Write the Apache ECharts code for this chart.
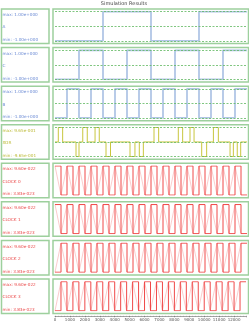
<!DOCTYPE html>
<html><head><meta charset="utf-8">
<script src="https://cdn.jsdelivr.net/npm/echarts@6/dist/echarts.min.js"></script>
<style>html,body{margin:0;padding:0;background:#fff}#c{width:249px;height:323px}</style>
</head><body><div id="c"></div>
<script>
const titleText = 'Simulation Results';
const signalNames = ['A', 'C', 'B', 'XOR', 'CLOCK 0', 'CLOCK 1', 'CLOCK 2', 'CLOCK 3'];
const maxLabels = ['1.00e+000', '1.00e+000', '1.00e+000', '9.65e-001', '9.60e-022', '9.60e-022', '9.60e-022', '9.60e-022'];
const minLabels = ['-1.00e+000', '-1.00e+000', '-1.00e+000', '-9.65e-001', '3.83e-023', '3.83e-023', '3.83e-023', '3.83e-023'];
const yMaxes = [1, 1, 1, 0.965, 9.6e-22, 9.6e-22, 9.6e-22, 9.6e-22];
const yMins = [-1, -1, -1, -0.965, 3.83e-23, 3.83e-23, 3.83e-23, 3.83e-23];
const xTickLabels = [0, 1000, 2000, 3000, 4000, 5000, 6000, 7000, 8000, 9000, 10000, 11000, 12000];
const xEnd = 12800;

const aTimes = [0, 3200, 6400, 9600, 12800];
const aValues = [-1, 1, -1, 1, 1];
const cTimes = [0, 1600, 3200, 4800, 6400, 8000, 9600, 11200, 12800];
const cValues = [-1, 1, -1, 1, -1, 1, -1, 1, 1];
const bTimes = [0, 800, 1600, 2400, 3200, 4000, 4800, 5600, 6400, 7200, 8000, 8800, 9600, 10400, 11200, 12000, 12800];
const bValues = [-1, 1, -1, 1, -1, 1, -1, 1, -1, 1, -1, 1, -1, 1, -1, 1, 1];
const xorTimes = [0, 220, 510, 1400, 1600, 1850, 2150, 2670, 2950, 3400, 3700, 5000, 5330, 5620, 5890, 6600, 6910, 8220, 8510, 9000, 9270, 9780, 10110, 10560, 10890, 11670, 11890, 12150, 12380, 12800];
const xorValues = [0, 0.965, 0, -0.965, 0, 0.965, 0, 0.965, 0, -0.965, 0, -0.965, 0, -0.965, 0, 0.965, 0, 0.965, 0, 0.965, 0, -0.965, 0, 0.965, 0, -0.965, 0, -0.965, 0, 0];
const clkTimes = [0, 400, 800, 1200, 1600, 2000, 2400, 2800, 3200, 3600, 4000, 4400, 4800, 5200, 5600, 6000, 6400, 6800, 7200, 7600, 8000, 8400, 8800, 9200, 9600, 10000, 10400, 10800, 11200, 11600, 12000, 12400, 12800];
const H = 9.6e-22, L = 3.83e-23;
const clk0Values = [H, L, H, L, H, L, H, L, H, L, H, L, H, L, H, L, H, L, H, L, H, L, H, L, H, L, H, L, H, L, H, L, L];
const clk1Values = [H, L, H, L, H, L, H, L, H, L, H, L, H, L, H, L, H, L, H, L, H, L, H, L, H, L, H, L, H, L, H, L, L];
const clk2Values = [L, H, L, H, L, H, L, H, L, H, L, H, L, H, L, H, L, H, L, H, L, H, L, H, L, H, L, H, L, H, L, H, H];
const clk3Values = [L, H, L, H, L, H, L, H, L, H, L, H, L, H, L, H, L, H, L, H, L, H, L, H, L, H, L, H, L, H, L, H, H];

const rowTimes = [aTimes, cTimes, bTimes, xorTimes, clkTimes, clkTimes, clkTimes, clkTimes];
const rowValues = [aValues, cValues, bValues, xorValues, clk0Values, clk1Values, clk2Values, clk3Values];
const rowKinds = ['digital', 'digital', 'digital', 'xor', 'clock', 'clock', 'clock', 'clock'];

const kindStyle = {
  digital: { color: '#b1c6e6', width: 1.8, text: '#6a8ad4' },
  xor: { color: '#c8c63e', width: 1, text: '#bbb934' },
  clock: { color: '#f04848', width: 1, text: '#ea4848' }
};
const boxGreen = '#9dd09d';
const dashGreen = '#5fb85f';

const rowTop0 = 9, rowStep = 38.57, rowH = 34.5;
const grids = [], xAxes = [], yAxes = [], series = [], graphics = [];
for (let i = 0; i < signalNames.length; i++) {
  const top = rowTop0 + i * rowStep;
  const st = kindStyle[rowKinds[i]];
  grids.push({ left: 55, right: 2, top: top + 2.7, height: rowH - 5.4 });
  const last = i === signalNames.length - 1;
  xAxes.push({
    type: 'value', gridIndex: i, min: 0, max: xEnd, interval: 1000,
    show: last,
    offset: 5,
    axisLine: { show: true, lineStyle: { color: '#666', width: 0.6 } },
    axisTick: { show: true, length: 1.5, lineStyle: { color: '#666', width: 0.6 } },
    minorTick: { show: true, splitNumber: 5, length: 1, lineStyle: { color: '#888', width: 0.5 } },
    axisLabel: { fontSize: 4, color: '#555', margin: 2.5, fontFamily: 'DejaVu Sans',
      formatter: v => xTickLabels.indexOf(v) >= 0 ? String(v) : '' },
    splitLine: { show: false }
  });
  yAxes.push({ type: 'value', gridIndex: i, min: yMins[i], max: yMaxes[i], show: false, splitLine: { show: false } });
  const data = rowTimes[i].map((t, k) => [t, rowValues[i][k]]);
  const mid = (yMins[i] + yMaxes[i]) / 2;
  series.push({
    type: 'line', xAxisIndex: i, yAxisIndex: i, data, step: 'end', symbol: 'none',
    lineStyle: { color: st.color, width: st.width }, animation: false,
    markLine: {
      silent: true, symbol: ['none', 'none'], label: { show: false },
      lineStyle: { color: dashGreen, type: [2, 1.5], width: 0.8 },
      data: [{ yAxis: yMins[i] }, { yAxis: mid }, { yAxis: yMaxes[i] }]
    }
  });
  if (rowKinds[i] === 'clock') {
    series.push({
      type: 'line', xAxisIndex: i, yAxisIndex: i, data, symbol: 'none',
      lineStyle: { color: 'rgba(240,72,72,0.28)', width: 1 }, animation: false, z: 1
    });
  }
  graphics.push({ type: 'rect', shape: { x: 1.5, y: top, width: 47.5, height: rowH },
    style: { fill: 'none', stroke: boxGreen, lineWidth: 1.5 } });
  graphics.push({ type: 'rect', shape: { x: 53, y: top, width: 195.5, height: rowH },
    style: { fill: 'none', stroke: boxGreen, lineWidth: 1.5 } });
  const ts = { fill: st.text, font: '4.2px "DejaVu Sans"', textVerticalAlign: 'middle' };
  graphics.push({ type: 'text', x: 2.5, y: top + 6, style: Object.assign({ text: 'max: ' + maxLabels[i] }, ts) });
  graphics.push({ type: 'text', x: 2.5, y: top + 18.3, style: Object.assign({ text: signalNames[i] }, ts) });
  graphics.push({ type: 'text', x: 2.5, y: top + 31, style: Object.assign({ text: 'min: ' + minLabels[i] }, ts) });
}

const chart = echarts.init(document.getElementById('c'), null, { renderer: 'canvas' });
chart.setOption({
  animation: false,
  title: { text: titleText, left: 124, top: 1, padding: 0, textAlign: 'center',
    textStyle: { fontSize: 5, fontWeight: 'normal', color: '#444', fontFamily: 'DejaVu Sans' } },
  grid: grids, xAxis: xAxes, yAxis: yAxes, series, graphic: graphics
});
</script></body></html>
